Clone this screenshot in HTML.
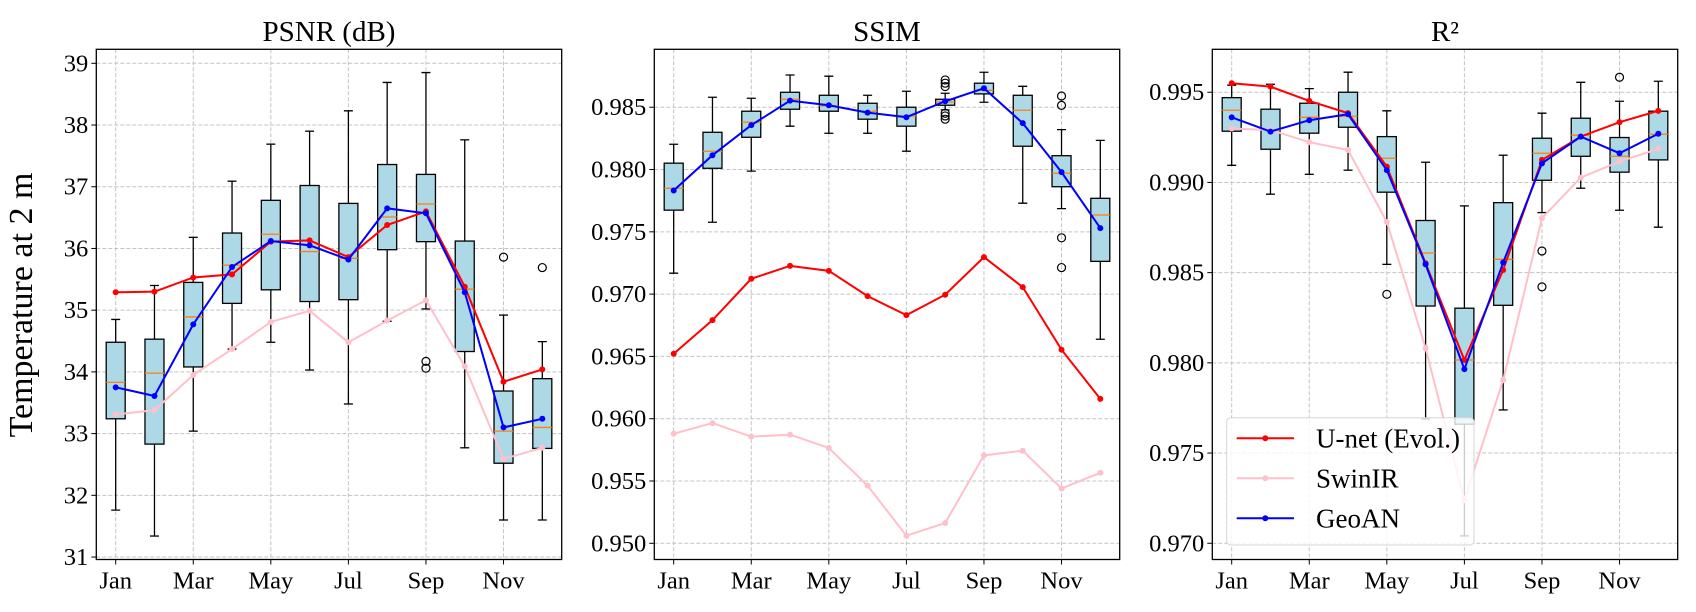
<!DOCTYPE html>
<html><head><meta charset="utf-8">
<style>
html,body{margin:0;padding:0;background:#fff;}
svg{display:block;}
svg text{font-family:"Liberation Serif","Times New Roman",Times,"DejaVu Serif",serif;}
</style></head>
<body>
<svg id="chart" width="1696" height="612" viewBox="0 0 1696 612">
<text x="32" y="305" font-size="34" font-family="Liberation Serif, serif" text-anchor="middle" transform="rotate(-90 32 305)">Temperature at 2 m</text>
</svg>
<script>
const months = ["Jan","Feb","Mar","Apr","May","Jun","Jul","Aug","Sep","Oct","Nov","Dec"];
const tickMonths = ["Jan","Mar","May","Jul","Sep","Nov"];

// PSNR
const psnrWhiskLo = [31.76,31.34,33.04,34.37,34.48,34.03,33.48,34.82,35.02,32.77,31.60,31.60];
const psnrQ1 = [33.24,32.83,34.08,35.11,35.33,35.14,35.17,35.98,36.11,34.33,32.52,32.76];
const psnrMed = [33.83,33.98,34.89,35.73,36.23,35.95,35.84,36.51,36.72,35.34,33.04,33.10];
const psnrQ3 = [34.48,34.53,35.45,36.25,36.78,37.02,36.73,37.36,37.20,36.12,33.69,33.89];
const psnrWhiskHi = [34.85,35.40,36.18,37.09,37.69,37.90,38.23,38.69,38.85,37.76,34.92,34.49];
const psnrOutliers = [[],[],[],[],[],[],[],[],[34.17,34.06],[],[35.86],[35.69]];
const psnrUnet = [35.29,35.30,35.53,35.58,36.11,36.13,35.86,36.38,36.60,35.38,33.84,34.04];
const psnrSwin = [33.31,33.38,33.95,34.37,34.81,34.99,34.48,34.83,35.16,34.09,32.59,32.77];
const psnrGeo = [33.75,33.61,34.77,35.70,36.12,36.05,35.82,36.65,36.57,35.29,33.10,33.24];
const psnrTicks = [31,32,33,34,35,36,37,38,39];
const psnrTickLabels = ["31","32","33","34","35","36","37","38","39"];

// SSIM
const ssimWhiskLo = [0.97168,0.97577,0.97987,0.98348,0.98291,0.98291,0.98147,0.98479,0.98540,0.97730,0.97686,0.96638];
const ssimQ1 = [0.97674,0.98010,0.98259,0.98484,0.98468,0.98404,0.98348,0.98516,0.98607,0.98187,0.97862,0.97263];
const ssimMed = [0.97850,0.98147,0.98380,0.98564,0.98511,0.98468,0.98430,0.98543,0.98636,0.98476,0.97970,0.97635];
const ssimQ3 = [0.98051,0.98299,0.98468,0.98620,0.98596,0.98532,0.98500,0.98564,0.98693,0.98596,0.98111,0.97769];
const ssimWhiskHi = [0.98203,0.98580,0.98572,0.98759,0.98749,0.98596,0.98628,0.98612,0.98781,0.98668,0.98320,0.98234];
const ssimOutliers = [[],[],[],[],[],[],[],[0.98719,0.98693,0.98666,0.98452,0.98430,0.98404],[],[],[0.98590,0.98515,0.97452,0.97213],[]];
const ssimUnet = [0.96521,0.96791,0.97123,0.97227,0.97187,0.96984,0.96831,0.96995,0.97297,0.97056,0.96554,0.96159];
const ssimSwin = [0.95880,0.95965,0.95856,0.95872,0.95765,0.95463,0.95061,0.95163,0.95706,0.95743,0.95440,0.95566];
const ssimGeo = [0.97832,0.98115,0.98356,0.98553,0.98516,0.98457,0.98420,0.98548,0.98652,0.98372,0.97979,0.97530];
const ssimTicks = [0.950,0.955,0.960,0.965,0.970,0.975,0.980,0.985];
const ssimTickLabels = ["0.950","0.955","0.960","0.965","0.970","0.975","0.980","0.985"];

// R2
const r2WhiskLo = [0.99095,0.98935,0.99045,0.99068,0.98546,0.97689,0.97041,0.97739,0.98833,0.98968,0.98846,0.98752];
const r2Q1 = [0.99284,0.99184,0.99273,0.99306,0.98946,0.98315,0.97660,0.98319,0.99012,0.99145,0.99057,0.99125];
const r2Med = [0.99400,0.99291,0.99361,0.99367,0.99134,0.98609,0.98016,0.98574,0.99162,0.99262,0.99145,0.99267];
const r2Q3 = [0.99470,0.99406,0.99439,0.99500,0.99254,0.98789,0.98303,0.98888,0.99245,0.99356,0.99249,0.99395];
const r2WhiskHi = [0.99539,0.99544,0.99520,0.99611,0.99397,0.99112,0.98870,0.99151,0.99384,0.99555,0.99450,0.99561];
const r2Outliers = [[],[],[],[],[0.98380],[],[],[],[0.98620,0.98421],[],[0.99583],[]];
const r2Unet = [0.99550,0.99531,0.99452,0.99384,0.99088,0.98552,0.98016,0.98515,0.99125,0.99254,0.99334,0.99397];
const r2Swin = [0.99299,0.99291,0.99223,0.99180,0.98781,0.98081,0.97240,0.97905,0.98802,0.99027,0.99116,0.99186];
const r2Geo = [0.99361,0.99282,0.99345,0.99378,0.99068,0.98546,0.97965,0.98556,0.99106,0.99254,0.99162,0.99270];
const r2Ticks = [0.970,0.975,0.980,0.985,0.990,0.995];
const r2TickLabels = ["0.970","0.975","0.980","0.985","0.990","0.995"];

const NS = "http://www.w3.org/2000/svg";
const svg = document.getElementById("chart");
const FONT = "Liberation Serif, Times New Roman, serif";
function mk(tag, attrs, parent){
  const e = document.createElementNS(NS, tag);
  for (const k in attrs) e.setAttribute(k, attrs[k]);
  if (tag === "text") e.setAttribute("font-family", FONT);
  (parent||svg).appendChild(e);
  return e;
}

const TOP = 49.3, BOT = 559.5, W = 465.4;
const panels = [
  {key:"psnr", title:"PSNR (dB)", left:96.3, yMin:30.96, yMax:39.227,
   lo:psnrWhiskLo,q1:psnrQ1,med:psnrMed,q3:psnrQ3,hi:psnrWhiskHi,out:psnrOutliers,
   unet:psnrUnet,swin:psnrSwin,geo:psnrGeo,ticks:psnrTicks,labels:psnrTickLabels},
  {key:"ssim", title:"SSIM", left:654.3, yMin:0.9487, yMax:0.98965,
   lo:ssimWhiskLo,q1:ssimQ1,med:ssimMed,q3:ssimQ3,hi:ssimWhiskHi,out:ssimOutliers,
   unet:ssimUnet,swin:ssimSwin,geo:ssimGeo,ticks:ssimTicks,labels:ssimTickLabels},
  {key:"r2", title:"R²", left:1212.3, yMin:0.9691, yMax:0.99738,
   lo:r2WhiskLo,q1:r2Q1,med:r2Med,q3:r2Q3,hi:r2WhiskHi,out:r2Outliers,
   unet:r2Unet,swin:r2Swin,geo:r2Geo,ticks:r2Ticks,labels:r2TickLabels}
];

panels.forEach(p => {
  const g = mk("g", {});
  
  
  const xs = i => p.left + (i + 0.5) * (W / 12);
  const ys = v => BOT - (v - p.yMin) / (p.yMax - p.yMin) * (BOT - TOP);

  const clipId = "clip-" + p.key;
  const cp = mk("clipPath", {id: clipId}, g);
  mk("rect", {x:p.left, y:TOP, width:W, height:BOT-TOP}, cp);

  p.ticks.forEach((t, k) => {
    const y = ys(t);
    const gl = mk("line", {x1:p.left, x2:p.left+W, y1:y, y2:y, stroke:"#c4c4c4", "stroke-width":1, "stroke-dasharray":"4,2"}, g);
    
    
    mk("line", {x1:p.left-5, x2:p.left, y1:y, y2:y, stroke:"#000", "stroke-width":1}, g);
    const tl = mk("text", {x:p.left-8, y:y+8, "font-size":24.5, "text-anchor":"end"}, g);
    tl.textContent = p.labels[k];
    
    
  });
  tickMonths.forEach(m => {
    const i = months.indexOf(m);
    const x = xs(i);
    const gl = mk("line", {x1:x, x2:x, y1:TOP, y2:BOT, stroke:"#c4c4c4", "stroke-width":1, "stroke-dasharray":"4,2"}, g);
    
    
    mk("line", {x1:x, x2:x, y1:BOT, y2:BOT+5, stroke:"#000", "stroke-width":1}, g);
    const tl = mk("text", {x:x, y:BOT+29, "font-size":24.5, "text-anchor":"middle"}, g);
    tl.textContent = m;
    
    
  });

  const dg = mk("g", {"clip-path":"url(#"+clipId+")"}, g);
  const bw = 19, cw = 9;
  months.forEach((m, i) => {
    const x = xs(i);
    const bg = mk("g", {}, dg);
    
    
    mk("line", {x1:x, x2:x, y1:ys(p.hi[i]), y2:ys(p.q3[i]), stroke:"#000", "stroke-width":1.3}, bg);
    mk("line", {x1:x, x2:x, y1:ys(p.q1[i]), y2:ys(p.lo[i]), stroke:"#000", "stroke-width":1.3}, bg);
    mk("line", {x1:x-cw/2, x2:x+cw/2, y1:ys(p.hi[i]), y2:ys(p.hi[i]), stroke:"#000", "stroke-width":1.3}, bg);
    mk("line", {x1:x-cw/2, x2:x+cw/2, y1:ys(p.lo[i]), y2:ys(p.lo[i]), stroke:"#000", "stroke-width":1.3}, bg);
    mk("rect", {x:x-bw/2, y:ys(p.q3[i]), width:bw, height:ys(p.q1[i])-ys(p.q3[i]), fill:"#add8e6", stroke:"#000", "stroke-width":1.3}, bg);
    mk("line", {x1:x-bw/2, x2:x+bw/2, y1:ys(p.med[i]), y2:ys(p.med[i]), stroke:"#ff7f0e", "stroke-width":1.3}, bg);
    p.out[i].forEach(v => {
      const c = mk("circle", {cx:x, cy:ys(v), r:4, fill:"none", stroke:"#000", "stroke-width":1.2}, bg);
      
      
    });
  });
  const series = [["unet-evol-line", p.unet, "#ff0000"], ["swinir-line", p.swin, "#ffc0cb"], ["geoan-line", p.geo, "#0000ff"]];
  series.forEach(([name, vals, col]) => {
    const sg = mk("g", {}, dg);
    
    
    mk("polyline", {points: vals.map((v,i)=>xs(i)+","+ys(v)).join(" "), fill:"none", stroke:col, "stroke-width":2}, sg);
    vals.forEach((v,i) => {
      const c = mk("circle", {cx:xs(i), cy:ys(v), r:3, fill:col}, sg);
      
      
    });
  });

  const fr = mk("rect", {x:p.left, y:TOP, width:W, height:BOT-TOP, fill:"none", stroke:"#000", "stroke-width":1.3}, g);
  
  
  const tt = mk("text", {x:p.left+W/2, y:41, "font-size":29, "text-anchor":"middle"}, g);
  tt.textContent = p.title;
  
  
});

const lg = mk("g", {});


mk("rect", {x:1226.7, y:417.7, width:247.3, height:127.3, rx:4, fill:"#fff", "fill-opacity":0.8, stroke:"#d6d6d6", "stroke-width":1}, lg);
const legNames = ["U-net (Evol.)","SwinIR","GeoAN"];
const legCols = ["#ff0000","#ffc0cb","#0000ff"];
legNames.forEach((n, k) => {
  const y = 438.3 + k*40;
  const e = mk("g", {}, lg);
  
  
  mk("line", {x1:1236.7, x2:1294, y1:y, y2:y, stroke:legCols[k], "stroke-width":2}, e);
  mk("circle", {cx:1265.3, cy:y, r:3, fill:legCols[k]}, e);
  const t = mk("text", {x:1316, y:y+9, "font-size":27}, e);
  t.textContent = n;
});
</script>
</body></html>
